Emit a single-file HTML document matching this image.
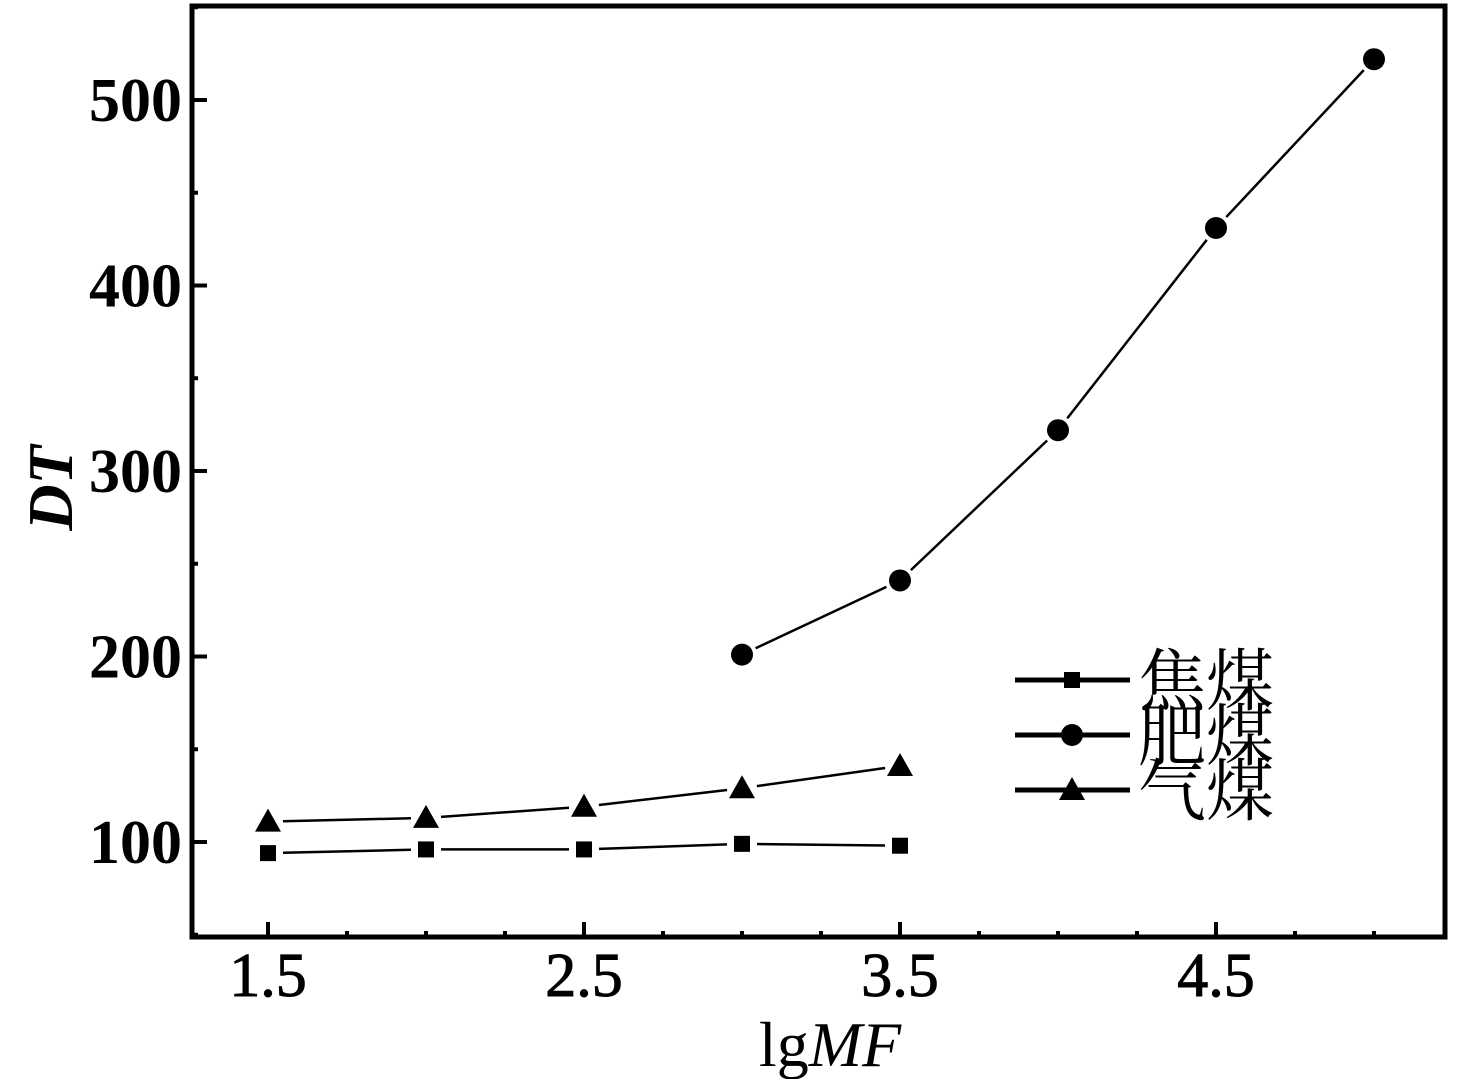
<!DOCTYPE html>
<html><head><meta charset="utf-8"><style>body{margin:0;background:#fff}svg{display:block}</style></head>
<body>
<svg id="c" width="1468" height="1079" xmlns="http://www.w3.org/2000/svg" font-family="'Liberation Serif','Noto Serif CJK SC',serif"></svg>
<script>
const xTicks=[1.5,2.5,3.5,4.5];
const yTicks=[100,200,300,400,500];
const cokeX=[1.5,2,2.5,3,3.5];
const cokeY=[94,96,96,99,98];
const fatX=[3,3.5,4,4.5,5];
const fatY=[201,241,322,431,522];
const gasX=[1.5,2,2.5,3,3.5];
const gasY=[111,113,119,129,141];
const names=['焦煤','肥煤','气煤'];
const L=192,R=1445,T=6,B=937;
const X=v=>268+(v-1.5)*316;
const Y=v=>842-(v-100)*1.855;
const svg=document.getElementById('c');
const NS='http://www.w3.org/2000/svg';
function mk(t,a,p){const e=document.createElementNS(NS,t);for(const k in a)e.setAttribute(k,a[k]);(p||svg).appendChild(e);return e;}
let f=mk('rect',{x:L,y:T,width:R-L,height:B-T,fill:'none',stroke:'#000','stroke-width':5});


for(let v=1.5;v<=5.2;v+=0.25){const maj=Math.abs((v-1.5)%1)<1e-6;let t=mk('line',{x1:X(v),x2:X(v),y1:B,y2:B-(maj?15:6),stroke:'#000','stroke-width':4});

}
for(let v=50;v<=550;v+=50){const maj=v%100===0;let t=mk('line',{x1:L,x2:L+(maj?15:6),y1:Y(v),y2:Y(v),stroke:'#000','stroke-width':4});

}
xTicks.forEach(v=>{let t=mk('text',{x:X(v),y:996,'font-size':62,'text-anchor':'middle',stroke:'#000','stroke-width':1});t.textContent=v.toFixed(1);

});
yTicks.forEach(v=>{let t=mk('text',{x:182,y:Y(v)+21,'font-size':62,'font-weight':'bold','text-anchor':'end'});t.textContent=v;

});
let yt=mk('text',{x:0,y:0,'font-size':64,'font-weight':'bold','font-style':'italic','text-anchor':'middle',transform:'translate(72,488) rotate(-90)'});yt.textContent='DT';


let xt=mk('text',{x:830,y:1066,'font-size':64,'text-anchor':'middle'});xt.innerHTML='lg<tspan font-style="italic">MF</tspan>';


function marker(type,cx,cy){
 if(type==0)return mk('rect',{x:cx-8,y:cy-8,width:16,height:16,fill:'#000'});
 if(type==1)return mk('circle',{cx:cx,cy:cy,r:11,fill:'#000'});
 return mk('polygon',{points:`${cx},${cy-13} ${cx+13},${cy+10} ${cx-13},${cy+10}`,fill:'#000'});
}
[[cokeX,cokeY],[fatX,fatY],[gasX,gasY]].forEach((s,k)=>{
 const xs=s[0],ys=s[1];
 for(let i=0;i<xs.length-1;i++){
  const x1=X(xs[i]),y1=Y(ys[i]),x2=X(xs[i+1]),y2=Y(ys[i+1]);
  const d=Math.hypot(x2-x1,y2-y1),g=15/d;
  let l=mk('line',{x1:x1+(x2-x1)*g,y1:y1+(y2-y1)*g,x2:x2-(x2-x1)*g,y2:y2-(y2-y1)*g,stroke:'#000','stroke-width':2.5});
  
  
 }
 xs.forEach((x,i)=>{let m=marker(k,X(x),Y(ys[i]));
  
  });
 const ly=[680,735,790][k];
 let ll=mk('line',{x1:1015,x2:1130,y1:ly,y2:ly,stroke:'#000','stroke-width':5});
 
 
 let lm=marker(k,1072,ly);
 
 
 let lt=mk('text',{x:1138,y:ly+25,'font-size':68});lt.textContent=names[k];
 
 
});
</script>
</body></html>
